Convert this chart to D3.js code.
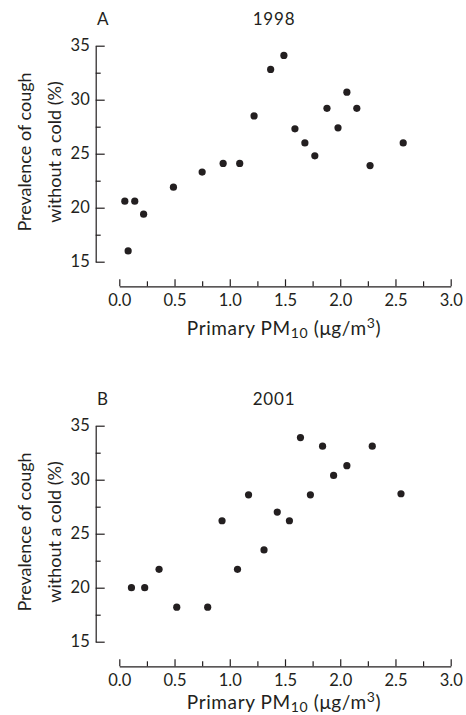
<!DOCTYPE html>
<html>
<head>
<meta charset="utf-8">
<script src="https://cdn.jsdelivr.net/npm/d3@7"></script>
<style>
  body { margin: 0; background: #fff; }
  svg text { font-family: Lato, "Open Sans", sans-serif; fill: #231f20; }
  .axis path, .axis line { stroke: #231f20; stroke-width: 1.2; }
  .axis text { font-size: 16.5px; }
</style>
</head>
<body>
<script>
// data
var pm1998 = [0.05, 0.14, 0.08, 0.22, 0.49, 0.75, 0.94, 1.09, 1.22, 1.37, 1.49, 1.59, 1.68, 1.77, 1.88, 1.98, 2.06, 2.15, 2.27, 2.57];
var cough1998 = [20.6, 20.6, 16.0, 19.4, 21.9, 23.3, 24.1, 24.1, 28.5, 32.8, 34.1, 27.3, 26.0, 24.8, 29.2, 27.4, 30.7, 29.2, 23.9, 26.0];

var pm2001 = [0.11, 0.23, 0.36, 0.52, 0.80, 0.93, 1.07, 1.17, 1.31, 1.43, 1.54, 1.64, 1.73, 1.84, 1.94, 2.06, 2.29, 2.55];
var cough2001 = [20.0, 20.0, 21.7, 18.2, 18.2, 26.2, 21.7, 28.6, 23.5, 27.0, 26.2, 33.9, 28.6, 33.1, 30.4, 31.3, 33.1, 28.7];

var xTicks = [0, 0.5, 1, 1.5, 2, 2.5, 3];
var xMinor = [0.25, 0.75, 1.25, 1.75, 2.25, 2.75];
var yTicks = [15, 20, 25, 30, 35];
var yMinor = [17.5, 22.5, 27.5, 32.5];

var panels = [
  { letter: "A", year: "1998", x: pm1998, y: cough1998, top: 0, labelY: 335 },
  { letter: "B", year: "2001", x: pm2001, y: cough2001, top: 380, labelY: 328.5 }
];

var svgWidth = 466;
var svgHeight = 715;

var svg = d3.select("body")
  .append("svg")
  .attr("width", svgWidth)
  .attr("height", svgHeight);

var xScale = d3.scaleLinear()
  .domain([0, 3])
  .range([119.3, 450.7]);

panels.forEach(function(p) {
  var g = svg.append("g")
    .attr("transform", `translate(0, ${p.top})`);

  var yScale = d3.scaleLinear()
    .domain([15, 35])
    .range([261.7, 45.7]);

  var xAxisY = 286.3;
  var yAxisX = 95.7;

  // y axis, ticks pointing inwards
  g.append("g")
    .attr("class", "axis")
    .attr("transform", `translate(${yAxisX}, 0)`)
    .call(d3.axisLeft(yScale).tickValues(yTicks).tickFormat(d3.format("d"))
      .tickSizeInner(-9).tickSizeOuter(0).tickPadding(6));

  g.append("g")
    .attr("class", "axis")
    .attr("transform", `translate(${yAxisX}, 0)`)
    .call(d3.axisLeft(yScale).tickValues(yMinor).tickFormat("")
      .tickSizeInner(-5).tickSizeOuter(0))
    .select(".domain").remove();

  // x axis, detached below
  g.append("g")
    .attr("class", "axis")
    .attr("transform", `translate(0, ${xAxisY})`)
    .call(d3.axisBottom(xScale).tickValues(xTicks).tickFormat(d3.format(".1f"))
      .tickSizeInner(-7).tickSizeOuter(0).tickPadding(8));

  g.append("g")
    .attr("class", "axis")
    .attr("transform", `translate(0, ${xAxisY})`)
    .call(d3.axisBottom(xScale).tickValues(xMinor).tickFormat("")
      .tickSizeInner(-5).tickSizeOuter(0))
    .select(".domain").remove();

  g.selectAll(".axis .domain").attr("fill", "none");

  // points
  var pts = p.x.map(function(v, i) { return { x: v, y: p.y[i] }; });
  g.selectAll("circle")
    .data(pts)
    .enter()
    .append("circle")
    .attr("cx", d => xScale(d.x))
    .attr("cy", d => yScale(d.y))
    .attr("r", 3.6)
    .attr("fill", "#231f20");

  // panel letter + year
  g.append("text")
    .attr("x", 97)
    .attr("y", 25)
    .attr("font-size", "17px")
    .text(p.letter);

  g.append("text")
    .attr("x", 274)
    .attr("y", 25)
    .attr("text-anchor", "middle")
    .attr("font-size", "17px")
    .attr("letter-spacing", "0.8px")
    .text(p.year);

  // x label
  var xl = g.append("text")
    .attr("x", 284)
    .attr("y", p.labelY)
    .attr("text-anchor", "middle")
    .attr("font-size", "19px")
    .attr("letter-spacing", "0.6px");
  xl.append("tspan").text("Primary PM");
  xl.append("tspan").attr("dy", 3).attr("font-size", "14px").text("10");
  xl.append("tspan").attr("dy", -3).text(" (\u03bcg/m");
  xl.append("tspan").attr("dy", -7).attr("font-size", "14px").text("3");
  xl.append("tspan").attr("dy", 7).text(")");

  // y label, two lines
  var yl = g.append("text")
    .attr("transform", `translate(0, 152) rotate(-90)`)
    .attr("text-anchor", "middle")
    .attr("font-size", "18px");
  yl.append("tspan").attr("x", 0).attr("y", 31).text("Prevalence of cough");
  yl.append("tspan").attr("x", 0).attr("y", 61).text("without a cold (%)");
});
</script>
</body>
</html>
